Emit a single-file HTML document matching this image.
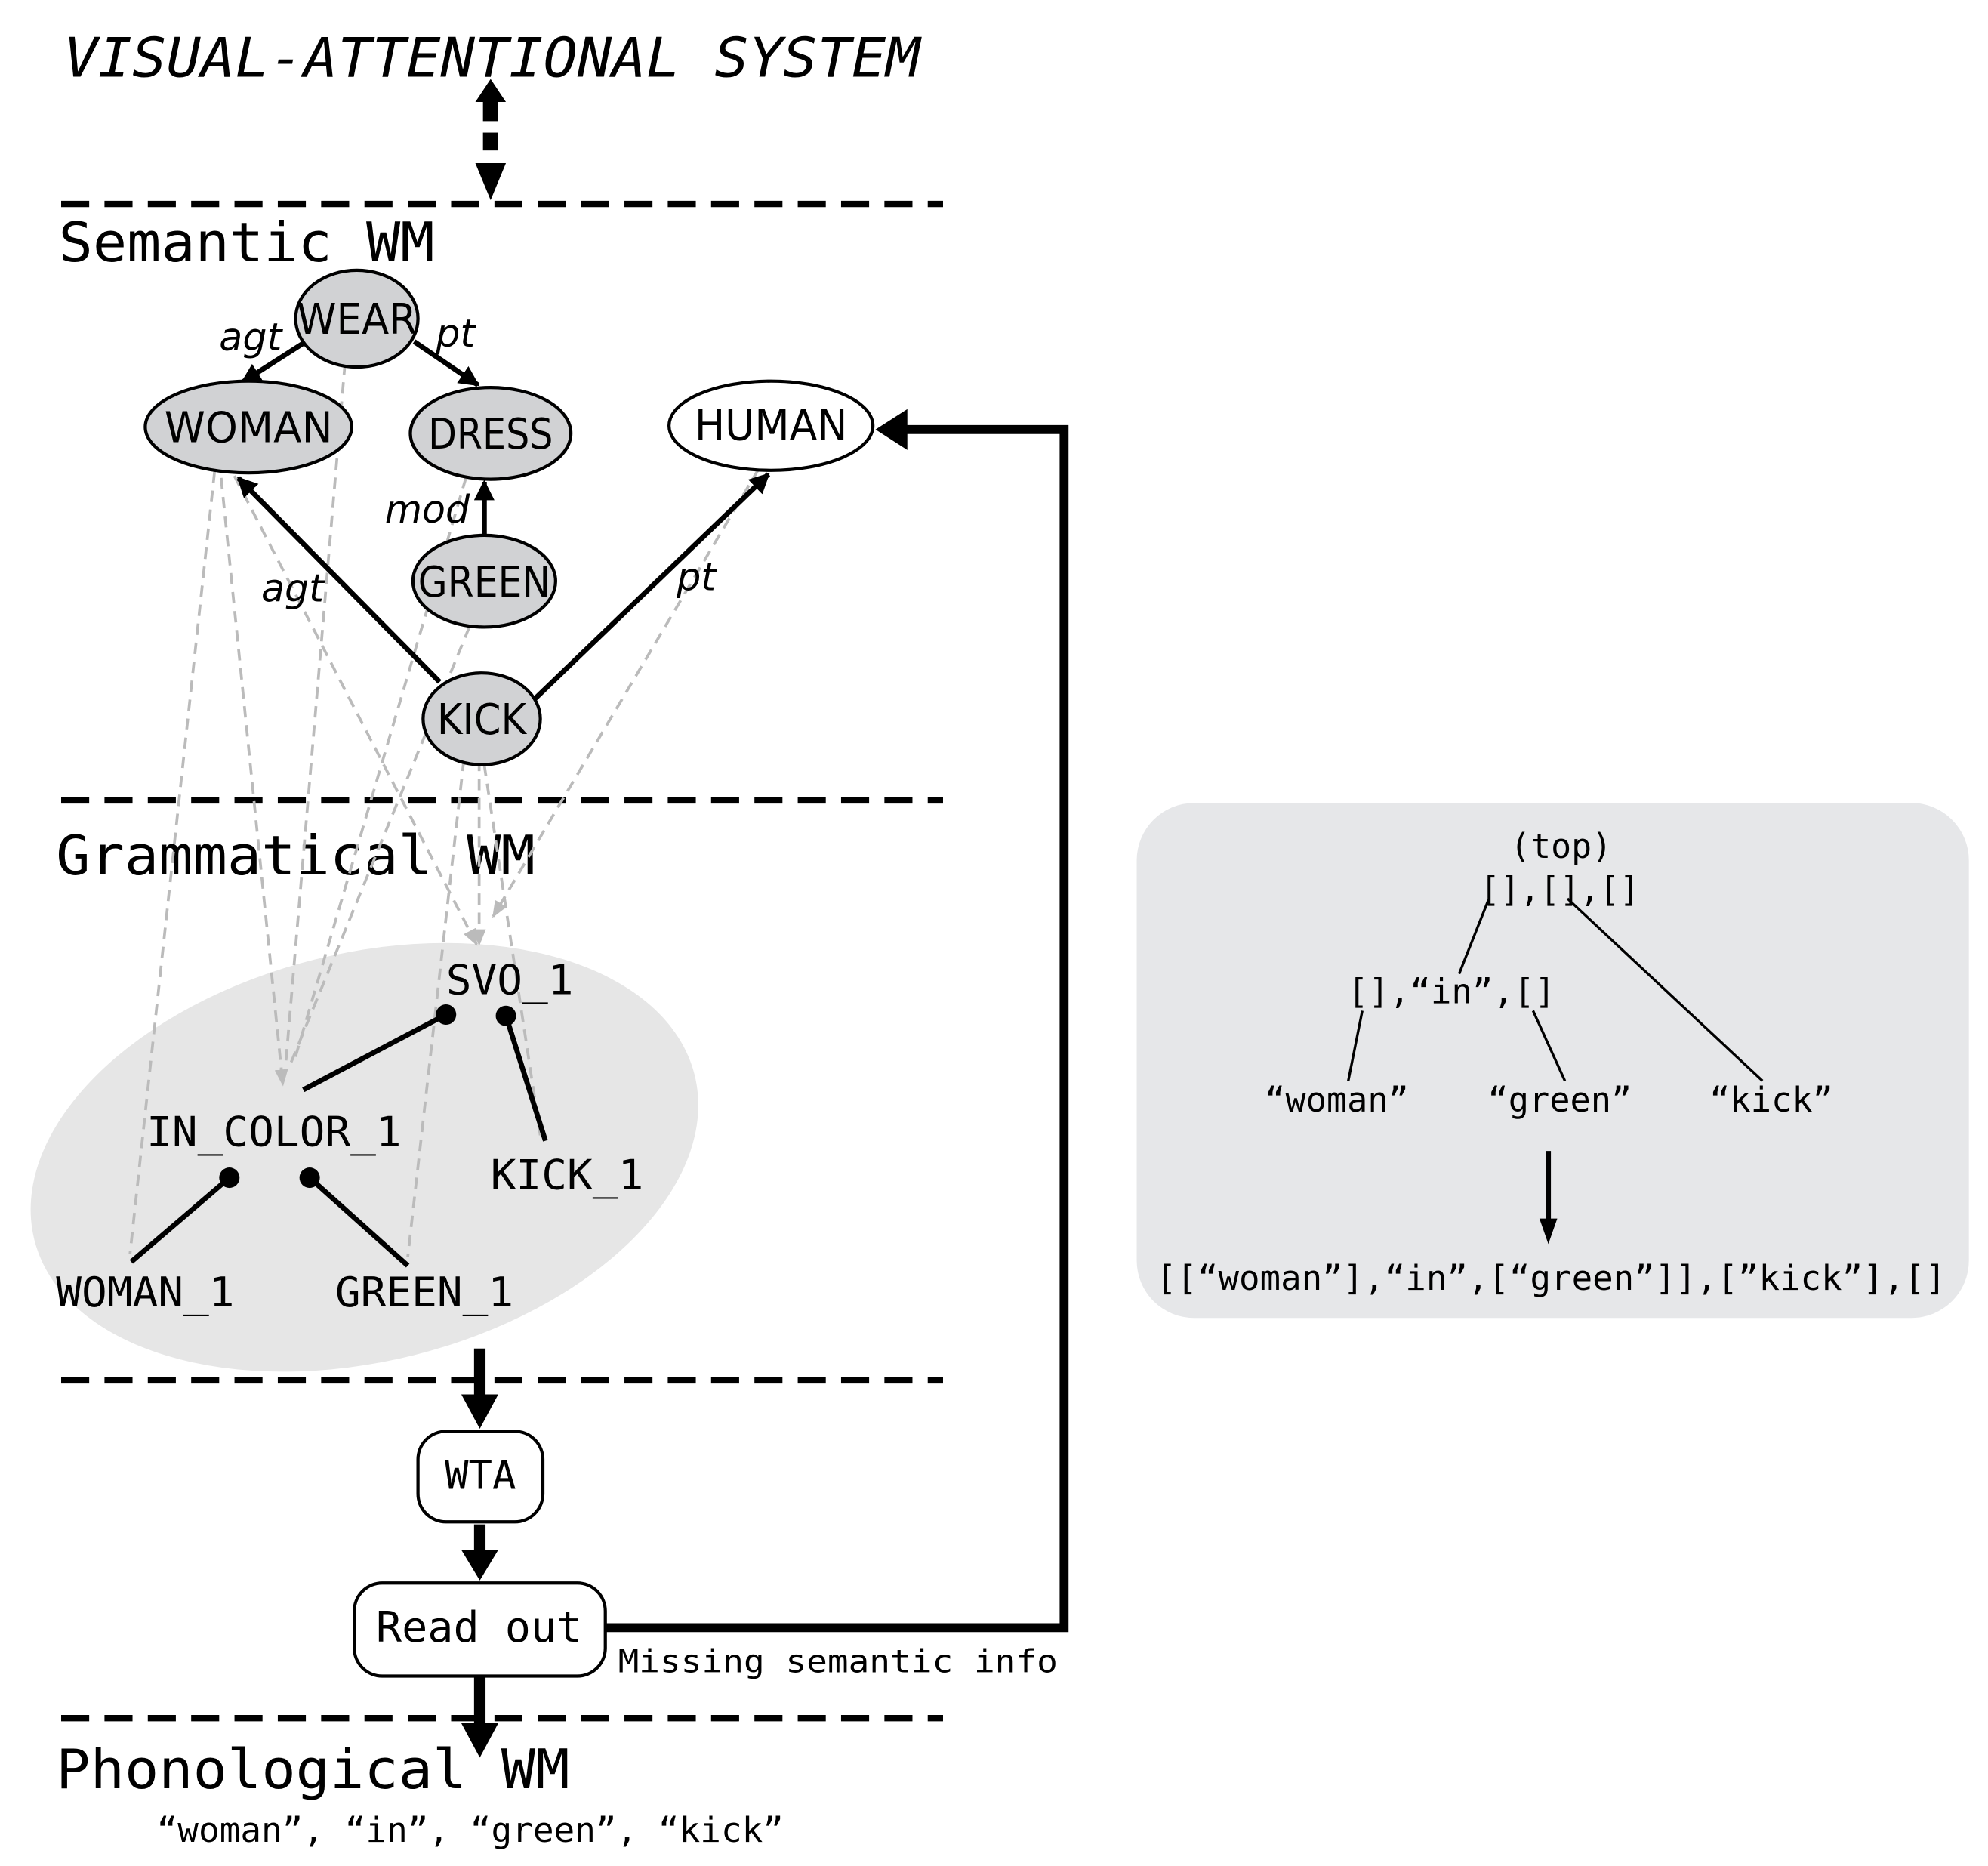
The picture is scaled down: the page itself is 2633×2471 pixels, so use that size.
<!DOCTYPE html>
<html><head><meta charset="utf-8"><style>
html,body{margin:0;padding:0;background:#fff}
svg{display:block}
.m{font-family:"DejaVu Sans Mono","Liberation Mono",monospace}
.s{font-family:"DejaVu Sans Condensed","Liberation Sans Narrow","Liberation Sans",sans-serif}
.i{font-family:"DejaVu Sans","Liberation Sans",sans-serif;font-style:italic}
</style></head><body>
<svg width="2633" height="2471" viewBox="0 0 1560 1464" xmlns="http://www.w3.org/2000/svg">
<defs>
<marker id="a" viewBox="0 0 10 10" refX="9" refY="5" markerWidth="4" markerHeight="4" orient="auto"><path d="M0,0L10,5L0,10z" fill="#000"/></marker>
<marker id="g" viewBox="0 0 10 10" refX="9" refY="5" markerWidth="6" markerHeight="6" orient="auto"><path d="M0,1L10,5L0,9z" fill="#bbb"/></marker>
</defs>
<rect width="1560" height="1464" fill="#fff"/>
<text x="50" y="60" class="m" font-style="italic" font-size="43" textLength="672" lengthAdjust="spacingAndGlyphs">VISUAL-ATTENTIONAL SYSTEM</text>
<path d="M385,62 L397,80 L391,80 L391,95 L379,95 L379,80 L373,80z" fill="#000"/>
<rect x="379" y="104" width="12" height="14" fill="#000"/>
<path d="M373,128 L397,128 L385,157z" fill="#000"/>
<g stroke="#000" stroke-width="5" stroke-dasharray="22,12">
<line x1="48" y1="160" x2="740" y2="160"/>
<line x1="48" y1="628" x2="740" y2="628"/>
<line x1="48" y1="1083" x2="740" y2="1083"/>
<line x1="48" y1="1348" x2="740" y2="1348"/>
</g>
<text x="46" y="205" class="m" font-size="43" textLength="295" lengthAdjust="spacingAndGlyphs">Semantic WM</text>
<text x="44" y="686" class="m" font-size="43" textLength="376" lengthAdjust="spacingAndGlyphs">Grammatical WM</text>
<text x="44" y="1403" class="m" font-size="43" textLength="403" lengthAdjust="spacingAndGlyphs">Phonological WM</text>
<ellipse cx="286" cy="908" rx="267" ry="160" transform="rotate(-14 286 908)" fill="#e6e6e6"/>
<g stroke="#bbb" stroke-width="2.2" stroke-dasharray="9,6" fill="none">
<line x1="170" y1="355" x2="102" y2="984"/>
<line x1="172" y1="360" x2="222" y2="851" marker-end="url(#g)"/>
<line x1="177" y1="360" x2="374" y2="741" marker-end="url(#g)"/>
<line x1="272" y1="270" x2="224" y2="837"/>
<line x1="370" y1="360" x2="231" y2="832"/>
<line x1="374" y1="478" x2="227" y2="837"/>
<line x1="364" y1="596" x2="320" y2="986"/>
<line x1="376" y1="596" x2="376" y2="741" marker-end="url(#g)"/>
<line x1="380" y1="600" x2="424" y2="891"/>
<line x1="603" y1="355" x2="387" y2="719" marker-end="url(#g)"/>
</g>
<g stroke="#000" stroke-width="4" fill="none" marker-end="url(#a)">
<line x1="240" y1="268" x2="190" y2="300"/>
<line x1="325" y1="268" x2="375" y2="302"/>
<line x1="380" y1="420" x2="380" y2="378"/>
<line x1="345" y1="535" x2="187" y2="375"/>
<line x1="420" y1="548" x2="603" y2="372"/>
</g>
<g stroke="#000" stroke-width="2.5">
<ellipse cx="280" cy="250" rx="48" ry="38" fill="#d1d2d4"/>
<ellipse cx="195" cy="335" rx="81" ry="36" fill="#d1d2d4"/>
<ellipse cx="385" cy="340" rx="63" ry="36" fill="#d1d2d4"/>
<ellipse cx="605" cy="334" rx="80" ry="35" fill="#fff"/>
<ellipse cx="380" cy="456" rx="56" ry="36" fill="#d1d2d4"/>
<ellipse cx="378" cy="564" rx="46" ry="36" fill="#d1d2d4"/>
</g>
<g class="s" font-size="33" text-anchor="middle">
<text x="280" y="262" textLength="94" lengthAdjust="spacingAndGlyphs">WEAR</text>
<text x="195" y="347" textLength="132" lengthAdjust="spacingAndGlyphs">WOMAN</text>
<text x="385" y="352" textLength="98" lengthAdjust="spacingAndGlyphs">DRESS</text>
<text x="605" y="345" textLength="120" lengthAdjust="spacingAndGlyphs">HUMAN</text>
<text x="380" y="468" textLength="104" lengthAdjust="spacingAndGlyphs">GREEN</text>
<text x="378" y="576" textLength="70" lengthAdjust="spacingAndGlyphs">KICK</text>
</g>
<g class="i" font-size="30">
<text x="172" y="275">agt</text>
<text x="342" y="272">pt</text>
<text x="302" y="410">mod</text>
<text x="205" y="472">agt</text>
<text x="531" y="463">pt</text>
</g>
<g stroke="#000" stroke-width="4">
<line x1="350" y1="796" x2="238" y2="855"/>
<line x1="397" y1="797" x2="428" y2="895"/>
<line x1="180" y1="924" x2="103" y2="990"/>
<line x1="243" y1="924" x2="320" y2="993"/>
</g>
<g fill="#000">
<circle cx="350" cy="796" r="8"/><circle cx="397" cy="797" r="8"/>
<circle cx="180" cy="924" r="8"/><circle cx="243" cy="924" r="8"/>
</g>
<g class="m" font-size="32">
<text x="350" y="780" textLength="100" lengthAdjust="spacingAndGlyphs">SVO_1</text>
<text x="115" y="899" textLength="200" lengthAdjust="spacingAndGlyphs">IN_COLOR_1</text>
<text x="385" y="933" textLength="120" lengthAdjust="spacingAndGlyphs">KICK_1</text>
<text x="44" y="1025" textLength="140" lengthAdjust="spacingAndGlyphs">WOMAN_1</text>
<text x="263" y="1025" textLength="140" lengthAdjust="spacingAndGlyphs">GREEN_1</text>
</g>
<g fill="#000">
<rect x="372" y="1058" width="9" height="38"/><path d="M362,1094 L391,1094 L376.5,1121z"/>
<rect x="372" y="1196" width="9" height="22"/><path d="M362,1216 L391,1216 L376.5,1240z"/>
<rect x="372" y="1316" width="9" height="38"/><path d="M362,1352 L391,1352 L376.5,1379z"/>
</g>
<rect x="328" y="1123" width="98" height="71" rx="22" fill="#fff" stroke="#000" stroke-width="2.5"/>
<text x="377" y="1168" class="m" font-size="31" text-anchor="middle">WTA</text>
<rect x="278" y="1242" width="197" height="73" rx="22" fill="#fff" stroke="#000" stroke-width="2.5"/>
<text x="376" y="1288" class="m" font-size="33" text-anchor="middle" textLength="162" lengthAdjust="spacingAndGlyphs">Read out</text>
<polyline points="475,1277 835,1277 835,337 708,337" fill="none" stroke="#000" stroke-width="7"/>
<path d="M687,337 L712,321 L712,353z" fill="#000"/>
<text x="485" y="1312" class="m" font-size="25" textLength="345" lengthAdjust="spacingAndGlyphs">Missing semantic info</text>
<text x="123" y="1445" class="m" font-size="27" textLength="492" lengthAdjust="spacingAndGlyphs">“woman”, “in”, “green”, “kick”</text>
<rect x="892" y="630" width="653" height="404" rx="45" fill="#e6e7e9"/>
<g class="m" font-size="27" text-anchor="middle">
<text x="1225" y="673" textLength="80" lengthAdjust="spacingAndGlyphs">(top)</text>
<text x="1224" y="707" textLength="125" lengthAdjust="spacingAndGlyphs">[],[],[]</text>
<text x="1139" y="787" textLength="163" lengthAdjust="spacingAndGlyphs">[],“in”,[]</text>
<text x="1049" y="872" textLength="113" lengthAdjust="spacingAndGlyphs">“woman”</text>
<text x="1224" y="872" textLength="113" lengthAdjust="spacingAndGlyphs">“green”</text>
<text x="1390" y="872" textLength="97" lengthAdjust="spacingAndGlyphs">“kick”</text>
<text x="1217" y="1012" textLength="620" lengthAdjust="spacingAndGlyphs">[[“woman”],“in”,[“green”]],[”kick”],[]</text>
</g>
<g stroke="#000" stroke-width="2">
<line x1="1168" y1="706" x2="1145" y2="764"/>
<line x1="1230" y1="705" x2="1383" y2="848"/>
<line x1="1069" y1="793" x2="1058" y2="848"/>
<line x1="1203" y1="793" x2="1228" y2="848"/>
</g>
<rect x="1213" y="903" width="4" height="55" fill="#000"/>
<path d="M1208,956 L1222,956 L1215,976z" fill="#000"/>
</svg>
</body></html>
